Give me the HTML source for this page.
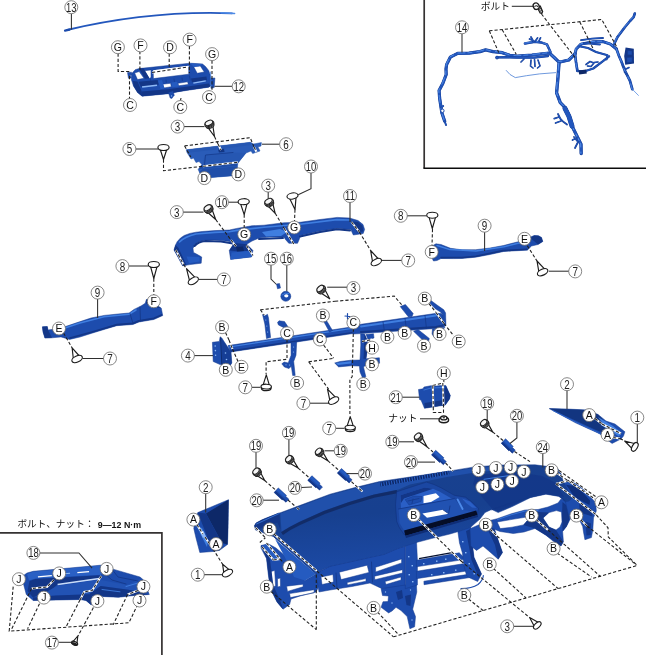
<!DOCTYPE html>
<html lang="ja"><head><meta charset="utf-8"><title>インストルメントパネル</title>
<style>
html,body{margin:0;padding:0;background:#fff}
body{width:646px;height:655px;overflow:hidden;font-family:"Liberation Sans","Noto Sans CJK JP",sans-serif}
svg{display:block;will-change:transform}
.b{fill:#1d4cad;stroke:#153a8e;stroke-width:.5;stroke-linejoin:round}
.d{fill:#133687;stroke:none}
.dd{fill:#0d2868;stroke:none}
.m{fill:#255bc0;stroke:none}
.h{fill:#3f7ee0;stroke:none}
.hh{fill:#8db8f5;stroke:none}
.w{fill:#fff;stroke:none}
.p6 .b{fill:#2a5cb8;stroke:#2050a8}.p6 .m{fill:#2657b2}.p6 .d{fill:#1f4ea8}.p6 .dd{fill:#123684}
.bl{fill:none;stroke:#1d4cad;stroke-linecap:round;stroke-linejoin:round}
.dl{fill:none;stroke:#133687;stroke-linecap:round;stroke-linejoin:round}
.hl{fill:none;stroke:#3f7ee0;stroke-linecap:round;stroke-linejoin:round}
.ld{fill:none;stroke:#2e2e2e;stroke-width:1.05}
.da{fill:none;stroke:#202020;stroke-width:1.08;stroke-dasharray:3.2 2}
.wh{fill:none;stroke:#fff;stroke-width:2}
.lc{fill:#fff;stroke:#6a6a6a;stroke-width:.8}
.ln{font-size:12.3px;text-anchor:middle;fill:#222;font-family:"Liberation Sans","Noto Sans CJK JP",sans-serif}
.ll{font-size:10.5px;text-anchor:middle;fill:#111;font-family:"Liberation Sans","Noto Sans CJK JP",sans-serif}
.jp{font-size:10.5px;fill:#111;font-family:"Liberation Sans","Noto Sans CJK JP",sans-serif}
.tq{font-size:9.9px;font-weight:bold;fill:#111;font-family:"Liberation Sans","Noto Sans CJK JP",sans-serif}
.ck{fill:#fff;stroke:#1c1c1c;stroke-width:1.15;stroke-linejoin:round}
.sk{fill:#ececec;stroke:#222;stroke-width:1}
.sk2{fill:#f6f6f6;stroke:#222;stroke-width:1.1}
.fr{fill:none;stroke:#353232;stroke-width:1.7}
</style></head><body>
<svg width="646" height="655" viewBox="0 0 646 655">
<rect width="646" height="655" fill="#fff"/>
<path class="bl" style="stroke-width:1.8;stroke:#2357bd" d="M67 30 Q149.5 10.3 232 13.3"/>
<path class="hl" style="stroke-width:1.5;stroke:#4d8ae6" d="M221 12.8 L234.6 13.5"/>
<path class="bl" style="stroke-width:2.2" d="M65 30.6 L69.5 29.6"/>
<path class="ld" d="M71.4 13.0 L71.4 29.5"/>
<circle class="lc" cx="71.3" cy="7.2" r="6.5"/>
<text class="ln" transform="translate(71.3 11.6) scale(.77 1)">13</text>
<path class="b" fill-rule="evenodd" d="M131.3 74.0 L135.2 69.7 L139.0 68.6 L190.1 63.2 L202.5 64.0 L205.5 66.5 L208.7 70.5 L210.2 75.0 L211.0 79.8 L210.5 86.0 L208.7 87.2 L186.0 90.5 L174.0 92.4 L168.4 93.7 L142.1 96.2 L137.5 92.4 L133.5 86.0 L131.5 80.0Z M134.6 73.0 L139.2 71.5 L144.0 78.3 L137.5 79.6Z M144.5 70.7 L151.0 69.9 L151.0 77.6 L149.2 78.6Z M153.2 70.2 L188.6 65.8 L188.8 74.2 L153.4 78.6Z M193.6 66.6 L200.3 65.9 L204.3 72.0 L197.2 73.3Z M162.6 84.2 L170.6 83.3 L171.3 86.7 L164.0 88.0Z M178.0 83.3 L187.6 81.8 L188.3 84.4 L178.6 85.8Z"/>
<path class="w" d="M153.2 70.2 L188.6 65.8 L188.6 67.0 L153.2 71.4Z" />
<path class="d" d="M133.0 81.0 L137.5 81.5 L141.5 91.0 L142.1 96.2 L137.5 92.4 L133.5 86.0Z" />
<path class="d" d="M141.5 91.5 L168.0 89.3 L186.0 86.8 L208.7 83.6 L210.5 86.0 L208.7 87.2 L186.0 90.5 L168.4 93.7 L142.1 96.2Z" />
<path class="d" d="M138.5 81.8 L157.6 80.0 L158.8 84.5 L141.0 87.3Z" />
<path class="hh" d="M141.8 86.3 L156.8 84.6 L157.2 86.0 L142.3 87.8Z" />
<path class="d" d="M191.0 78.4 L206.4 76.5 L207.0 80.0 L192.0 82.3Z" />
<path class="hh" d="M193.2 82.4 L205.6 80.3 L205.9 81.5 L193.5 83.7Z" />
<path class="d" d="M139.0 68.6 L143.5 68.2 L149.5 78.2 L145.0 78.8Z" />
<path class="m" d="M190.1 63.2 L202.5 64.0 L199.4 66.3 L194.0 66.9Z" />
<path class="m" d="M158.0 80.5 L162.0 80.0 L164.5 88.5 L160.5 89.2Z" />
<path class="m" d="M171.5 82.5 L177.0 81.8 L178.8 86.5 L172.2 87.3Z" />
<path class="dl" style="stroke-width:.6" d="M150.5 79.5 L151 83 M166 80 L166.3 82.5 M174 79 L174.4 81.5 M182 78 L182.4 80.5 M189.5 76 L190.3 80"/>
<path class="b" d="M168.4 92.4 L173.1 90.8 L174.2 95.2 L171.8 98.5 L170.2 98.0 L169.2 95.0Z" />
<circle class="hh" cx="171.6" cy="96" r=".7"/>
<path class="b" d="M127.5 72.6 L131.5 72.2 L131.6 74.5 L130.2 75.0 L131.3 78.0 L128.5 78.3Z" />
<path class="b" d="M211.0 78.2 L214.9 78.0 L214.2 87.5 L211.0 88.3Z" />
<path class="hl" style="stroke-width:.8" d="M210.6 72 L211.2 88"/>
<path class="da" d="M118.1 53.5 L118.1 71.5 L130.0 71.5"/>
<path class="da" d="M139.9 51.0 L139.9 70.0"/>
<path class="da" d="M189.4 46.0 L189.4 73.0"/>
<path class="wh" d="M152.0 72.5 L188.0 67.0"/>
<path class="da" d="M152.0 72.5 L188.0 67.0"/>
<path class="da" d="M169.2 53.5 L169.2 69.0"/>
<path class="da" d="M212.0 60.5 L212.0 90.5"/>
<path class="da" d="M129.5 76.0 L129.5 99.0"/>
<path class="da" d="M181.0 98.0 L180.5 100.5"/>
<path class="ld" d="M214.5 86.3 L232.2 86.3"/>
<circle class="lc" cx="117.9" cy="47.2" r="6.5"/>
<text class="ll" x="117.9" y="51.0">G</text>
<circle class="lc" cx="140.5" cy="45.4" r="6.5"/>
<text class="ll" x="140.5" y="49.2">F</text>
<circle class="lc" cx="170.0" cy="47.3" r="6.5"/>
<text class="ll" x="170.0" y="51.1">D</text>
<circle class="lc" cx="189.6" cy="39.6" r="6.5"/>
<text class="ll" x="189.6" y="43.4">F</text>
<circle class="lc" cx="212.1" cy="54.1" r="6.5"/>
<text class="ll" x="212.1" y="57.9">G</text>
<circle class="lc" cx="130.0" cy="105.0" r="6.5"/>
<text class="ll" x="130.0" y="108.8">C</text>
<circle class="lc" cx="180.3" cy="107.0" r="6.5"/>
<text class="ll" x="180.3" y="110.8">C</text>
<circle class="lc" cx="209.0" cy="97.1" r="6.5"/>
<text class="ll" x="209.0" y="100.9">C</text>
<circle class="lc" cx="238.7" cy="86.3" r="6.5"/>
<text class="ln" transform="translate(238.7 90.7) scale(.77 1)">12</text>
<g class="p6">
<path class="b" d="M186.2 149.8 L250.5 142.3 L253.5 144.0 L261.4 142.6 L261.0 146.0 L258.0 147.0 L260.0 151.0 L252.7 153.5 L251.0 151.0 L246.0 153.0 L237.8 163.2 L236.8 175.4 L202.0 178.3 L198.2 169.4 L201.9 164.5 L199.0 161.5 L196.0 162.5 L193.5 158.0 L191.0 159.0 L187.0 152.5Z" />
<path class="m" d="M186.2 149.8 L250.5 142.3 L251.0 145.0 L222.0 149.0 L190.0 152.5Z" />
<path class="d" d="M198.2 169.4 L201.9 164.5 L237.8 163.2 L236.8 166.0 L203.0 168.5Z" />
<path class="m" d="M202.0 166.5 L205.0 155.0 L233.0 152.5 L246.0 153.0 L237.8 163.2Z" />
<path class="dl" style="stroke-width:.7" d="M204.5 165 L205.5 155 L233 152.5"/>
<path class="d" d="M202.5 169.0 L236.8 166.5 L236.8 175.4 L202.0 178.3 L199.5 172.0Z" />
<path class="dd" d="M218.0 149.5 L224.0 148.8 L224.5 152.0 L219.0 152.5Z" />
</g>
<path class="da" d="M184.6 145.9 L250.2 137.7 L254.0 147.0"/>
<path class="da" d="M184.6 145.9 L190.8 157.1"/>
<path class="da" d="M214.5 136.5 L218.0 144.0"/>
<path class="wh" d="M218.0 144.0 L221.0 150.0"/>
<path class="da" d="M218.0 144.0 L221.0 150.0"/>
<path class="da" d="M163.5 159.5 L163.5 170.7 L203.0 166.3"/>
<path class="wh" d="M203.0 166.3 L237.8 162.3"/>
<path class="da" d="M203.0 166.3 L237.8 162.3"/>
<path class="wh" d="M254.0 147.0 L256.5 152.0"/>
<path class="da" d="M254.0 147.0 L256.5 152.0"/>
<path class="ld" d="M184.0 126.6 L204.5 126.6"/>
<path class="ck" d="M207.1 126.3 L214.5 136.5 L212.6 124.1Z"/>
<ellipse class="sk" cx="210.1" cy="125.7" rx="4.0" ry="2.4" transform="rotate(-22.3 210.1 125.7)"/>
<ellipse class="sk" cx="209.7" cy="124.7" rx="4.4" ry="2.4" transform="rotate(-22.3 209.7 124.7)"/>
<ellipse class="sk" cx="209.3" cy="123.8" rx="4.7" ry="2.4" transform="rotate(-22.3 209.3 123.8)"/>
<ellipse class="sk2" cx="208.9" cy="122.9" rx="4.0" ry="2.4" transform="rotate(-22.3 208.9 122.9)"/>
<path class="ld" d="M135.5 149.0 L158.5 149.0"/>
<path class="ck" d="M160.0 148.7 L163.5 159.5 L167.0 148.7Z"/>
<ellipse class="ck" cx="163.5" cy="147.5" rx="5.6" ry="3.0" transform="rotate(0.0 163.5 147.5)"/>
<path class="ld" d="M262.0 144.2 L280.0 144.2"/>
<circle class="lc" cx="177.6" cy="126.6" r="6.5"/>
<text class="ln" transform="translate(177.6 131.0) scale(.8 1)">3</text>
<circle class="lc" cx="129.4" cy="149.0" r="6.5"/>
<text class="ln" transform="translate(129.4 153.4) scale(.8 1)">5</text>
<circle class="lc" cx="286.1" cy="144.2" r="6.5"/>
<text class="ln" transform="translate(286.1 148.6) scale(.8 1)">6</text>
<circle class="lc" cx="204.4" cy="178.1" r="6.5"/>
<text class="ll" x="204.4" y="181.9">D</text>
<circle class="lc" cx="238.3" cy="174.4" r="6.5"/>
<text class="ll" x="238.3" y="178.2">D</text>
<path class="b" d="M174.0 250.0 L175.5 245.0 L177.3 241.5 L180.5 238.0 L184.2 235.5 L189.8 233.4 L196.0 232.2 L202.2 231.5 L215.0 230.6 L229.4 230.0 L236.8 228.4 L251.7 225.8 L264.0 225.2 L283.8 222.8 L300.0 222.3 L320.0 219.5 L337.2 217.4 L349.5 218.0 L358.0 220.5 L363.0 224.5 L364.6 229.4 L363.2 233.5 L353.3 235.0 L350.8 229.6 L337.2 228.4 L320.0 231.0 L300.5 235.6 L299.0 240.0 L297.5 243.3 L288.8 243.3 L285.5 239.5 L283.8 236.9 L270.0 237.0 L259.0 238.1 L252.0 241.0 L246.7 244.3 L252.9 250.5 L251.6 256.9 L230.6 259.4 L229.3 250.5 L234.3 243.0 L228.0 241.2 L221.0 240.6 L214.5 239.9 L205.0 240.2 L198.4 242.0 L194.5 245.0 L193.0 248.5 L193.5 252.4 L197.9 254.8 L201.7 257.0 L201.2 263.2 L190.0 264.6 L182.6 265.8 L178.5 258.0Z" />
<path class="hl" style="stroke-width:1.6" d="M179.5 242 Q185 236.5 196 234 L215 232.4 L229 231.8 L237 230.4 L264 227.2 L300 224.3 L337 219.6 L349 220"/>
<path class="dl" style="stroke-width:2" d="M194.5 246 Q198 241.8 205.5 241 L221 241.6 L233 243.5 M259 239 L283 238 M300 236.5 L320 232 L337 229.3 L350 230.5"/>
<path class="d" d="M174.0 250.0 L175.5 245.0 L178.5 248.0 L186.5 265.2 L182.6 265.8 L178.5 258.0Z" />
<path class="d" d="M229.3 250.5 L234.3 243.0 L246.7 244.3 L252.9 250.5 L240.0 251.5Z" />
<path class="m" d="M231.5 252.5 L251.0 250.8 L251.6 256.9 L230.6 259.4Z" />
<path class="dd" d="M236.0 247.0 L243.0 246.5 L244.0 251.0 L237.0 251.5Z" />
<path class="h" d="M262.0 232.0 L280.0 229.0 L287.0 232.0 L281.0 236.0 L266.0 236.5Z" />
<path class="d" d="M352.0 221.5 L358.0 222.0 L362.5 226.0 L363.2 231.5 L357.0 232.5 L354.5 227.0Z" />
<path class="m" d="M186.5 256.5 L199.5 257.0 L199.8 261.5 L189.0 263.2Z" />
<path class="da" d="M215.7 219.5 L231.0 240.0"/>
<path class="wh" d="M231.0 240.0 L236.0 246.3"/>
<path class="da" d="M231.0 240.0 L236.0 246.3"/>
<path class="wh" d="M246.5 245.5 L253.0 255.5"/>
<path class="da" d="M246.5 245.5 L253.0 255.5"/>
<path class="da" d="M244.2 214.6 L244.2 228.0"/>
<path class="da" d="M275.2 213.3 L284.0 228.0"/>
<path class="wh" d="M284.0 228.0 L294.0 244.5"/>
<path class="da" d="M284.0 228.0 L294.0 244.5"/>
<path class="da" d="M295.0 209.6 L294.5 221.0"/>
<path class="wh" d="M175.8 250.0 L183.5 264.5"/>
<path class="da" d="M175.8 250.0 L183.5 264.5"/>
<path class="da" d="M183.5 264.5 L186.5 268.6"/>
<path class="wh" d="M351.5 222.0 L359.4 232.0"/>
<path class="da" d="M351.5 222.0 L359.4 232.0"/>
<path class="da" d="M359.4 232.0 L370.6 250.5"/>
<path class="ld" d="M183.0 212.1 L203.5 212.1"/>
<path class="ck" d="M206.7 211.5 L215.7 219.5 L211.6 208.2Z"/>
<ellipse class="sk" cx="209.4" cy="210.3" rx="4.0" ry="2.4" transform="rotate(-34.2 209.4 210.3)"/>
<ellipse class="sk" cx="208.9" cy="209.4" rx="4.4" ry="2.4" transform="rotate(-34.2 208.9 209.4)"/>
<ellipse class="sk" cx="208.3" cy="208.6" rx="4.7" ry="2.4" transform="rotate(-34.2 208.3 208.6)"/>
<ellipse class="sk2" cx="207.7" cy="207.8" rx="4.0" ry="2.4" transform="rotate(-34.2 207.7 207.8)"/>
<path class="ld" d="M228.0 202.2 L238.5 202.2"/>
<path class="ck" d="M240.3 203.0 L244.2 214.6 L247.2 202.8Z"/>
<ellipse class="ck" cx="243.7" cy="201.7" rx="5.6" ry="3.0" transform="rotate(-2.2 243.7 201.7)"/>
<path class="ld" d="M268.2 191.5 L268.2 198.5"/>
<path class="ck" d="M267.1 205.0 L275.2 213.3 L272.4 202.0Z"/>
<ellipse class="sk" cx="270.0" cy="203.9" rx="4.0" ry="2.4" transform="rotate(-29.2 270.0 203.9)"/>
<ellipse class="sk" cx="269.5" cy="203.1" rx="4.4" ry="2.4" transform="rotate(-29.2 269.5 203.1)"/>
<ellipse class="sk" cx="269.0" cy="202.2" rx="4.7" ry="2.4" transform="rotate(-29.2 269.0 202.2)"/>
<ellipse class="sk2" cx="268.5" cy="201.3" rx="4.0" ry="2.4" transform="rotate(-29.2 268.5 201.3)"/>
<path class="ck" d="M289.3 197.8 L295.0 209.6 L296.1 196.6Z"/>
<ellipse class="ck" cx="292.5" cy="196.0" rx="5.6" ry="3.0" transform="rotate(-10.4 292.5 196.0)"/>
<path class="ld" d="M298.2 194.8 L311.0 188.6 L311.0 172.5"/>
<path class="ld" d="M350.0 202.0 L350.0 222.0"/>
<path class="ck" d="M195.7 278.1 L186.5 268.6 L189.7 281.4Z"/>
<ellipse class="ck" cx="193.3" cy="280.8" rx="5.6" ry="3.0" transform="rotate(-209.1 193.3 280.8)"/>
<path class="ld" d="M198.6 279.4 L218.0 279.4"/>
<path class="ck" d="M378.9 259.5 L370.6 250.5 L372.7 262.6Z"/>
<ellipse class="ck" cx="376.3" cy="262.1" rx="5.6" ry="3.0" transform="rotate(-206.2 376.3 262.1)"/>
<path class="ld" d="M381.7 260.4 L402.0 260.4"/>
<circle class="lc" cx="176.8" cy="212.1" r="6.5"/>
<text class="ln" transform="translate(176.8 216.5) scale(.8 1)">3</text>
<circle class="lc" cx="221.9" cy="202.2" r="6.5"/>
<text class="ln" transform="translate(221.9 206.6) scale(.77 1)">10</text>
<circle class="lc" cx="268.2" cy="185.6" r="6.5"/>
<text class="ln" transform="translate(268.2 190.0) scale(.8 1)">3</text>
<circle class="lc" cx="311.0" cy="166.5" r="6.5"/>
<text class="ln" transform="translate(311.0 170.9) scale(.77 1)">10</text>
<circle class="lc" cx="350.0" cy="196.0" r="6.5"/>
<text class="ln" transform="translate(350.0 200.4) scale(.77 1)">11</text>
<circle class="lc" cx="244.2" cy="234.4" r="6.5"/>
<text class="ll" x="244.2" y="238.2">G</text>
<circle class="lc" cx="294.2" cy="227.5" r="6.5"/>
<text class="ll" x="294.2" y="231.3">G</text>
<circle class="lc" cx="223.9" cy="279.4" r="6.5"/>
<text class="ln" transform="translate(223.9 283.8) scale(.8 1)">7</text>
<circle class="lc" cx="408.2" cy="260.4" r="6.5"/>
<text class="ln" transform="translate(408.2 264.8) scale(.8 1)">7</text>
<path class="ld" d="M271.0 264.5 L271.0 279.0 L276.5 284.5"/>
<path class="ld" d="M286.8 264.5 L286.8 291.5"/>
<path class="b" d="M276.5 284.0 L279.5 283.5 L280.5 288.0 L277.5 288.8Z" />
<circle class="b" cx="285.8" cy="296.3" r="5"/><ellipse class="w" cx="286.3" cy="295.8" rx="2.1" ry="1.6"/>
<path class="hl" style="stroke-width:1" d="M282 295 Q285 292 289 293.5"/>
<circle class="lc" cx="271.0" cy="258.7" r="6.5"/>
<text class="ln" transform="translate(271.0 263.1) scale(.77 1)">15</text>
<circle class="lc" cx="286.8" cy="258.7" r="6.5"/>
<text class="ln" transform="translate(286.8 263.1) scale(.77 1)">16</text>
<path class="b" d="M432.0 246.0 L436.0 243.8 L441.0 244.5 L450.6 248.3 L462.0 249.8 L475.7 249.7 L490.0 248.0 L503.6 245.5 L520.3 241.2 L528.0 238.0 L534.2 235.6 L538.5 235.8 L541.5 237.4 L542.8 241.5 L538.0 244.5 L531.5 246.0 L527.3 250.2 L515.0 250.8 L503.6 251.5 L490.0 254.5 L475.7 257.2 L462.0 258.5 L453.4 258.6 L441.0 258.5 L437.0 260.5 L433.5 261.0 L431.0 256.0 L430.5 250.0Z" />
<path class="hl" style="stroke-width:1.5" d="M437 245.5 L450 249.6 L476 251 L504 246.8 L521 242.5 L533 237.5"/>
<path class="dl" style="stroke-width:1.6" d="M441 257.6 L462 257.5 L476 256.2 L503 250.6 L527 249.3"/>
<path class="d" d="M530.0 238.0 L534.2 235.6 L538.5 235.8 L541.5 237.4 L542.8 241.5 L538.0 244.5 L534.0 241.0Z" />
<path class="da" d="M432.5 229.0 L432.0 246.0"/>
<path class="da" d="M527.3 245.7 L537.0 261.0"/>
<path class="ld" d="M407.0 215.8 L426.5 215.8"/>
<path class="ck" d="M428.8 216.4 L432.3 228.5 L435.8 216.4Z"/>
<ellipse class="ck" cx="432.3" cy="215.2" rx="5.6" ry="3.0" transform="rotate(0.0 432.3 215.2)"/>
<path class="ld" d="M484.6 231.8 L484.6 251.0"/>
<path class="ck" d="M545.2 269.6 L537.0 261.0 L539.0 272.7Z"/>
<ellipse class="ck" cx="542.6" cy="272.2" rx="5.6" ry="3.0" transform="rotate(-206.6 542.6 272.2)"/>
<path class="ld" d="M548.7 271.2 L569.0 271.2"/>
<circle class="lc" cx="400.8" cy="215.8" r="6.5"/>
<text class="ln" transform="translate(400.8 220.2) scale(.8 1)">8</text>
<circle class="lc" cx="431.7" cy="251.9" r="6.5"/>
<text class="ll" x="431.7" y="255.7">F</text>
<circle class="lc" cx="484.6" cy="225.7" r="6.5"/>
<text class="ln" transform="translate(484.6 230.1) scale(.8 1)">9</text>
<circle class="lc" cx="524.5" cy="238.8" r="6.5"/>
<text class="ll" x="524.5" y="242.6">E</text>
<circle class="lc" cx="575.2" cy="271.4" r="6.5"/>
<text class="ln" transform="translate(575.2 275.8) scale(.8 1)">7</text>
<path class="b" d="M42.4 326.8 L47.3 326.5 L48.0 330.0 L55.0 329.0 L64.7 326.8 L79.5 321.8 L91.0 318.0 L104.3 315.4 L118.0 314.0 L129.1 313.0 L134.0 309.4 L141.0 306.0 L145.2 303.3 L146.4 299.5 L152.0 299.0 L157.5 305.7 L161.3 308.2 L162.7 315.6 L153.8 319.5 L139.0 322.0 L132.8 324.5 L116.7 325.7 L104.0 329.5 L91.9 333.2 L80.0 337.0 L69.6 339.4 L61.0 336.9 L52.0 337.8 L44.9 338.1 L43.0 332.0Z" />
<path class="hl" style="stroke-width:1.5" d="M65 328 L80 323 L104 316.8 L129 314.3 L136 310"/>
<path class="dl" style="stroke-width:1.8" d="M70 338 L92 332 L117 324.6 L133 323.4 L139 320.8 L154 318.3 L161.5 315"/>
<path class="dl" style="stroke-width:.8" d="M130 313.5 L133 323.5 M140 307 L140.5 321"/>
<path class="d" d="M42.4 326.8 L47.3 326.5 L48.0 330.0 L52.0 337.8 L44.9 338.1 L43.0 332.0Z" />
<path class="d" d="M146.0 303.5 L153.0 307.0 L161.3 308.2 L157.5 305.7 L152.0 299.0 L146.4 299.5Z" />
<path class="da" d="M153.8 278.5 L153.8 296.0"/>
<path class="da" d="M63.5 333.0 L72.1 347.8"/>
<path class="ld" d="M128.5 266.0 L148.5 266.0"/>
<path class="ck" d="M150.3 265.7 L153.8 278.5 L157.3 265.7Z"/>
<ellipse class="ck" cx="153.8" cy="264.5" rx="5.6" ry="3.0" transform="rotate(0.0 153.8 264.5)"/>
<path class="ld" d="M97.6 298.5 L97.6 318.0"/>
<path class="ck" d="M79.8 356.5 L72.1 347.8 L73.4 359.3Z"/>
<ellipse class="ck" cx="77.1" cy="359.0" rx="5.6" ry="3.0" transform="rotate(-204.1 77.1 359.0)"/>
<path class="ld" d="M82.5 358.5 L104.0 358.5"/>
<circle class="lc" cx="122.4" cy="266.1" r="6.5"/>
<text class="ln" transform="translate(122.4 270.5) scale(.8 1)">8</text>
<circle class="lc" cx="153.8" cy="301.3" r="6.5"/>
<text class="ll" x="153.8" y="305.1">F</text>
<circle class="lc" cx="97.6" cy="292.6" r="6.5"/>
<text class="ln" transform="translate(97.6 297.0) scale(.8 1)">9</text>
<circle class="lc" cx="59.0" cy="328.5" r="6.5"/>
<text class="ll" x="59.0" y="332.3">E</text>
<circle class="lc" cx="110.0" cy="358.5" r="6.5"/>
<text class="ln" transform="translate(110.0 362.9) scale(.8 1)">7</text>
<path class="b" d="M228.0 345.6 L352.5 326.8 L353.0 333.5 L230.5 352.0Z" />
<path class="hl" style="stroke-width:1.2" d="M229 347 L352 328.3"/>
<path class="dl" style="stroke-width:1.3" d="M231 351 L352 332.7"/>
<path class="b" d="M353.0 326.5 L360.9 324.3 L436.4 313.3 L441.0 313.6 L444.0 316.0 L445.3 321.0 L445.1 326.0 L441.0 327.8 L436.4 328.5 L360.9 333.6 L353.0 334.0Z" />
<path class="hl" style="stroke-width:1.8" d="M361 326.5 L436 315.5"/>
<path class="dl" style="stroke-width:2.2" d="M361 332 L436 327 L443 325.5"/>
<path class="dl" style="stroke-width:.7" d="M383 322 L384.5 331.5 M405 318.5 L406.5 330 M425 315.5 L426.5 328.5"/>
<path class="b" d="M212.4 342.3 L219.3 341.4 L220.1 336.8 L221.8 338.0 L226.0 344.5 L231.0 352.2 L231.8 363.0 L230.2 365.4 L220.1 364.6 L213.2 361.5Z" />
<path class="d" d="M221.2 338.5 L226.0 344.5 L231.0 352.2 L231.8 363.0 L230.2 365.4 L222.2 364.8Z" style="opacity:.6"/>
<path class="dl" style="stroke-width:.9;stroke:#0d2868" d="M220.6 338 L221.8 364.5"/>
<circle class="hh" cx="215.2" cy="346.0" r=".8"/>
<circle class="hh" cx="215.4" cy="350.6" r=".8"/>
<circle class="hh" cx="215.6" cy="355.2" r=".8"/>
<circle class="hh" cx="225.5" cy="353.0" r=".8"/>
<circle class="hh" cx="226.5" cy="359.5" r=".8"/>
<path class="b" d="M262.5 314.5 L264.5 316.0 L267.5 314.3 L268.5 318.0 L270.6 337.5 L266.5 338.5 L264.8 324.0Z" />
<circle class="hh" cx="265.8" cy="320.0" r=".6"/>
<circle class="hh" cx="266.8" cy="326.0" r=".6"/>
<circle class="hh" cx="267.6" cy="332.0" r=".6"/>
<path class="b" d="M277.5 322.5 L279.0 320.8 L284.5 321.5 L287.5 326.0 L290.0 333.0 L286.5 335.0 L283.5 327.5 L278.5 325.0Z" />
<path class="b" d="M291.0 342.5 L296.7 341.8 L296.0 355.2 L293.7 361.4 L295.2 375.4 L292.7 375.6 L291.3 366.3 L289.0 368.6 L284.4 367.0 L281.8 363.8 L284.2 362.0 L288.2 363.0 L291.1 355.2Z" />
<circle class="hh" cx="293.6" cy="347.0" r=".6"/>
<circle class="hh" cx="293.5" cy="352.0" r=".6"/>
<circle class="hh" cx="286.0" cy="364.8" r=".6"/>
<circle class="hh" cx="289.6" cy="365.0" r=".6"/>
<path class="b" d="M323.5 321.0 L326.5 320.5 L332.5 330.5 L329.5 332.0Z" />
<path class="bl" style="stroke-width:1.2" d="M345 316 L350 316.5 M347.5 313.5 L347.5 319"/>
<path class="b" d="M400.2 306.6 L405.4 304.5 L413.2 313.5 L412.0 316.5 L408.5 317.0Z" />
<path class="b" d="M429.3 302.6 L431.3 300.8 L437.0 305.0 L443.8 309.8 L445.6 313.0 L445.9 325.5 L443.2 326.5 L442.8 315.0 L440.5 312.0 L435.0 308.5Z" />
<path class="b" d="M413.5 331.2 L418.0 329.5 L425.0 335.0 L429.3 338.5 L428.0 343.4 L421.0 338.5Z" />
<path class="b" d="M432.5 329.0 L445.0 327.2 L440.0 333.0 L434.5 337.5 L432.0 334.0Z" />
<path class="b" d="M360.6 333.8 L364.5 334.0 L367.4 340.7 L367.0 352.0 L366.0 358.8 L379.4 357.8 L379.6 363.2 L366.5 364.5 L363.5 367.0 L365.8 376.6 L363.3 379.4 L360.0 372.0 L359.4 366.0 L351.0 365.8 L338.6 366.9 L334.7 363.0 L340.0 361.5 L351.0 360.2 L360.0 360.0 L360.8 345.0Z" />
<path class="d" d="M364.5 334.0 L367.4 340.7 L367.0 352.0 L366.0 358.8 L363.5 358.8 L364.2 345.0Z" />
<path class="h" d="M336.0 363.0 L351.0 361.2 L351.0 363.5 L338.0 365.0Z" />
<path class="b" d="M366.0 334.5 L373.5 333.8 L374.0 338.0 L368.0 339.5Z" />
<path class="da" d="M335.0 301.3 L394.3 296.1 L401.7 304.8"/>
<path class="da" d="M260.4 309.8 L335.0 301.3"/>
<path class="da" d="M260.4 309.8 L264.2 315.0"/>
<path class="da" d="M225.5 332.5 L229.0 340.0"/>
<path class="wh" d="M229.0 340.0 L232.5 349.0"/>
<path class="da" d="M229.0 340.0 L232.5 349.0"/>
<path class="da" d="M232.5 349.0 L238.2 361.8"/>
<path class="da" d="M287.0 339.3 L287.0 359.3 L266.1 361.8 L266.1 374.2"/>
<path class="da" d="M323.6 345.0 L333.5 358.1"/>
<path class="da" d="M308.7 361.8 L333.5 358.4"/>
<path class="da" d="M308.7 361.8 L328.6 389.1"/>
<path class="da" d="M353.4 328.5 L352.2 376.6 L349.9 379.5 L349.9 416.0"/>
<path class="da" d="M429.0 303.6 L436.0 312.5"/>
<path class="wh" d="M436.0 312.5 L444.0 323.5"/>
<path class="da" d="M436.0 312.5 L444.0 323.5"/>
<path class="da" d="M444.0 323.5 L453.7 335.8"/>
<path class="wh" d="M362.0 341.5 L372.0 339.5"/>
<path class="da" d="M362.0 341.5 L372.0 339.5"/>
<path class="ld" d="M194.0 355.6 L213.0 355.6"/>
<ellipse class="ck" style="stroke-width:1.3" cx="266.2" cy="388.3" rx="4.8" ry="2.4" transform="rotate(-179.5 266.2 388.3)"/>
<path class="ck" d="M269.4 385.4 L266.3 374.8 L263.0 385.4Z"/>
<ellipse class="ck" cx="266.2" cy="386.6" rx="5.2" ry="2.4" transform="rotate(-179.5 266.2 386.6)"/>
<path class="ld" d="M251.8 387.3 L260.6 387.3"/>
<path class="ck" d="M336.1 397.9 L327.5 389.1 L330.0 401.2Z"/>
<ellipse class="ck" cx="333.6" cy="400.6" rx="5.6" ry="3.0" transform="rotate(-207.9 333.6 400.6)"/>
<path class="ld" d="M309.8 403.2 L329.5 403.2"/>
<ellipse class="ck" style="stroke-width:1.3" cx="350.2" cy="429.3" rx="4.8" ry="2.4" transform="rotate(-180.0 350.2 429.3)"/>
<path class="ck" d="M353.4 426.4 L350.2 416.6 L347.0 426.4Z"/>
<ellipse class="ck" cx="350.2" cy="427.6" rx="5.2" ry="2.4" transform="rotate(-180.0 350.2 427.6)"/>
<path class="ld" d="M335.6 428.3 L344.6 428.3"/>
<path class="ck" d="M319.8 292.3 L329.7 298.8 L324.2 288.3Z"/>
<ellipse class="sk" cx="322.3" cy="290.7" rx="4.0" ry="2.4" transform="rotate(-42.2 322.3 290.7)"/>
<ellipse class="sk" cx="321.7" cy="289.9" rx="4.4" ry="2.4" transform="rotate(-42.2 321.7 289.9)"/>
<ellipse class="sk" cx="321.0" cy="289.2" rx="4.7" ry="2.4" transform="rotate(-42.2 321.0 289.2)"/>
<ellipse class="sk2" cx="320.3" cy="288.5" rx="4.0" ry="2.4" transform="rotate(-42.2 320.3 288.5)"/>
<path class="ld" d="M327.2 287.2 L347.0 287.2"/>
<circle class="lc" cx="353.4" cy="288.0" r="6.5"/>
<text class="ln" transform="translate(353.4 292.4) scale(.8 1)">3</text>
<circle class="lc" cx="187.9" cy="355.6" r="6.5"/>
<text class="ln" transform="translate(187.9 360.0) scale(.8 1)">4</text>
<circle class="lc" cx="222.1" cy="327.2" r="6.5"/>
<text class="ll" x="222.1" y="331.0">B</text>
<circle class="lc" cx="225.8" cy="369.8" r="6.5"/>
<text class="ll" x="225.8" y="373.6">B</text>
<circle class="lc" cx="241.4" cy="366.8" r="6.5"/>
<text class="ll" x="241.4" y="370.6">E</text>
<circle class="lc" cx="287.0" cy="333.3" r="6.5"/>
<text class="ll" x="287.0" y="337.1">C</text>
<circle class="lc" cx="297.1" cy="382.9" r="6.5"/>
<text class="ll" x="297.1" y="386.7">B</text>
<circle class="lc" cx="322.9" cy="315.5" r="6.5"/>
<text class="ll" x="322.9" y="319.3">B</text>
<circle class="lc" cx="319.9" cy="339.5" r="6.5"/>
<text class="ll" x="319.9" y="343.3">C</text>
<circle class="lc" cx="353.4" cy="322.6" r="6.5"/>
<text class="ll" x="353.4" y="326.4">C</text>
<circle class="lc" cx="424.8" cy="298.6" r="6.5"/>
<text class="ll" x="424.8" y="302.4">B</text>
<circle class="lc" cx="458.7" cy="341.5" r="6.5"/>
<text class="ll" x="458.7" y="345.3">E</text>
<circle class="lc" cx="387.4" cy="337.0" r="6.5"/>
<text class="ll" x="387.4" y="340.8">B</text>
<circle class="lc" cx="404.7" cy="332.8" r="6.5"/>
<text class="ll" x="404.7" y="336.6">B</text>
<circle class="lc" cx="424.0" cy="345.7" r="6.5"/>
<text class="ll" x="424.0" y="349.5">B</text>
<circle class="lc" cx="439.6" cy="334.0" r="6.5"/>
<text class="ll" x="439.6" y="337.8">B</text>
<circle class="lc" cx="372.0" cy="347.7" r="6.5"/>
<text class="ll" x="372.0" y="351.5">H</text>
<circle class="lc" cx="372.0" cy="364.3" r="6.5"/>
<text class="ll" x="372.0" y="368.1">B</text>
<circle class="lc" cx="363.3" cy="384.1" r="6.5"/>
<text class="ll" x="363.3" y="387.9">B</text>
<circle class="lc" cx="245.3" cy="387.3" r="6.5"/>
<text class="ln" transform="translate(245.3 391.7) scale(.8 1)">7</text>
<circle class="lc" cx="303.4" cy="403.2" r="6.5"/>
<text class="ln" transform="translate(303.4 407.6) scale(.8 1)">7</text>
<circle class="lc" cx="329.2" cy="428.3" r="6.5"/>
<text class="ln" transform="translate(329.2 432.7) scale(.8 1)">7</text>
<path class="b" d="M418.5 389.5 L423.0 388.8 L424.0 387.0 L430.5 385.8 L445.8 385.6 L450.3 395.5 L449.5 399.0 L445.3 405.0 L424.5 408.3 L421.0 400.0 L419.5 399.5Z" />
<path class="d" d="M445.8 385.6 L450.3 395.5 L449.5 399.0 L445.3 405.0 L443.0 396.0Z" />
<path class="d" d="M424.5 403.0 L444.0 400.0 L445.3 405.0 L424.5 408.3Z" />
<path class="hl" style="stroke-width:.8" d="M424 390 L431 388 L444 387.5"/>
<path class="da" d="M443.8 379.0 L443.8 383.0"/>
<path class="wh" d="M432.8 385.5 L442.8 383.0 L443.5 405.0"/>
<path class="da" d="M432.8 385.5 L442.8 383.0 L443.5 405.0"/>
<path class="wh" d="M432.8 385.5 L433.3 407.0"/>
<path class="da" d="M432.8 385.5 L433.3 407.0"/>
<path class="da" d="M433.3 407.0 L433.3 412.5 L443.5 412.5 L443.5 405.0"/>
<path class="ld" d="M402.0 397.2 L419.5 397.2"/>
<circle class="lc" cx="395.8" cy="397.2" r="6.5"/>
<text class="ln" transform="translate(395.8 401.6) scale(.77 1)">21</text>
<circle class="lc" cx="443.8" cy="373.3" r="6.5"/>
<text class="ll" x="443.8" y="377.1">H</text>
<text class="jp" style="font-size:9.7px" x="388.3" y="422.4">ナット</text>
<path class="ld" d="M420.0 418.8 L439.0 418.8"/>
<ellipse class="ck" style="stroke-width:1.4" cx="443.8" cy="420" rx="4.8" ry="2.7"/><ellipse class="ck" style="stroke-width:1.3" cx="443.8" cy="417.9" rx="3.2" ry="1.9"/><ellipse cx="443.8" cy="417.7" rx="1.4" ry=".8" style="fill:#333"/>
<path class="b" d="M278.3 487.9 L286.5 495.4 L285.7 496.3 L288.9 499.2 L286.0 502.3 L282.8 499.4 L282.3 500.0 L274.1 492.5Z" />
<path class="m" d="M278.2 488.4 L286.0 495.5 L284.4 497.3 L276.6 490.2Z" />
<path class="d" d="M275.6 491.1 L286.6 501.2 L285.8 502.1 L282.8 499.4 L282.3 500.0 L274.3 492.6Z" />
<path class="b" d="M311.9 475.7 L320.1 483.2 L319.3 484.1 L322.5 487.0 L319.6 490.1 L316.4 487.2 L315.9 487.8 L307.7 480.3Z" />
<path class="m" d="M311.8 476.2 L319.6 483.3 L318.0 485.1 L310.2 478.0Z" />
<path class="d" d="M309.2 478.9 L320.2 489.0 L319.4 489.9 L316.4 487.2 L315.9 487.8 L307.9 480.4Z" />
<path class="b" d="M341.5 468.5 L349.7 476.0 L348.9 476.9 L352.1 479.8 L349.2 482.9 L346.0 480.0 L345.5 480.6 L337.3 473.1Z" />
<path class="m" d="M341.4 469.0 L349.2 476.1 L347.6 477.9 L339.8 470.8Z" />
<path class="d" d="M338.8 471.7 L349.8 481.8 L349.0 482.7 L346.0 480.0 L345.5 480.6 L337.5 473.2Z" />
<path class="b" d="M435.7 450.3 L443.9 457.8 L443.1 458.7 L446.3 461.6 L443.4 464.7 L440.2 461.8 L439.7 462.4 L431.5 454.9Z" />
<path class="m" d="M435.6 450.8 L443.4 457.9 L441.8 459.7 L434.0 452.6Z" />
<path class="d" d="M433.0 453.5 L444.0 463.6 L443.2 464.5 L440.2 461.8 L439.7 462.4 L431.7 455.0Z" />
<path class="b" d="M505.6 438.8 L513.2 446.4 L512.3 447.3 L515.3 450.3 L512.4 453.2 L509.4 450.3 L508.8 450.8 L501.2 443.2Z" />
<path class="m" d="M505.5 439.3 L512.7 446.5 L511.0 448.2 L503.8 441.0Z" />
<path class="d" d="M502.8 441.9 L513.0 452.2 L512.1 453.0 L509.4 450.3 L508.8 450.8 L501.3 443.3Z" />
<path class="da" d="M264.7 480.5 L275.0 489.5"/>
<path class="da" d="M288.0 500.0 L296.9 507.7"/>
<path class="da" d="M298.1 468.1 L309.0 477.5"/>
<path class="da" d="M327.8 460.7 L338.5 470.0"/>
<path class="da" d="M427.0 446.8 L433.0 452.0"/>
<path class="da" d="M445.5 463.0 L449.0 466.5"/>
<path class="da" d="M492.6 431.9 L503.0 440.5"/>
<path class="da" d="M514.5 451.5 L530.0 461.6"/>
<path class="ck" d="M255.7 474.8 L264.7 480.5 L259.7 471.0Z"/>
<ellipse class="sk" cx="258.1" cy="473.3" rx="3.7" ry="2.4" transform="rotate(-42.6 258.1 473.3)"/>
<ellipse class="sk" cx="257.4" cy="472.5" rx="4.0" ry="2.4" transform="rotate(-42.6 257.4 472.5)"/>
<ellipse class="sk" cx="256.7" cy="471.8" rx="4.3" ry="2.4" transform="rotate(-42.6 256.7 471.8)"/>
<ellipse class="sk2" cx="256.0" cy="471.1" rx="3.7" ry="2.4" transform="rotate(-42.6 256.0 471.1)"/>
<path class="ld" d="M256.0 451.8 L256.0 468.0"/>
<path class="ck" d="M288.5 462.4 L298.1 468.1 L292.4 458.5Z"/>
<ellipse class="sk" cx="290.8" cy="460.8" rx="3.7" ry="2.4" transform="rotate(-45.0 290.8 460.8)"/>
<ellipse class="sk" cx="290.1" cy="460.1" rx="4.0" ry="2.4" transform="rotate(-45.0 290.1 460.1)"/>
<ellipse class="sk" cx="289.4" cy="459.4" rx="4.3" ry="2.4" transform="rotate(-45.0 289.4 459.4)"/>
<ellipse class="sk2" cx="288.7" cy="458.7" rx="3.7" ry="2.4" transform="rotate(-45.0 288.7 458.7)"/>
<path class="ld" d="M288.9 439.0 L288.9 456.0"/>
<path class="ck" d="M318.3 455.0 L327.8 460.7 L322.2 451.1Z"/>
<ellipse class="sk" cx="320.6" cy="453.4" rx="3.7" ry="2.4" transform="rotate(-44.7 320.6 453.4)"/>
<ellipse class="sk" cx="319.9" cy="452.7" rx="4.0" ry="2.4" transform="rotate(-44.7 319.9 452.7)"/>
<ellipse class="sk" cx="319.2" cy="452.0" rx="4.3" ry="2.4" transform="rotate(-44.7 319.2 452.0)"/>
<ellipse class="sk2" cx="318.5" cy="451.3" rx="3.7" ry="2.4" transform="rotate(-44.7 318.5 451.3)"/>
<path class="ld" d="M324.5 450.8 L334.5 450.8"/>
<path class="ck" d="M417.2 439.8 L427.0 446.8 L421.4 436.2Z"/>
<ellipse class="sk" cx="419.6" cy="438.4" rx="3.7" ry="2.4" transform="rotate(-41.3 419.6 438.4)"/>
<ellipse class="sk" cx="419.0" cy="437.7" rx="4.0" ry="2.4" transform="rotate(-41.3 419.0 437.7)"/>
<ellipse class="sk" cx="418.3" cy="436.9" rx="4.3" ry="2.4" transform="rotate(-41.3 418.3 436.9)"/>
<ellipse class="sk2" cx="417.6" cy="436.1" rx="3.7" ry="2.4" transform="rotate(-41.3 417.6 436.1)"/>
<path class="ld" d="M398.8 441.8 L414.0 441.8"/>
<path class="ck" d="M483.4 426.3 L492.6 431.9 L487.4 422.5Z"/>
<ellipse class="sk" cx="485.8" cy="424.7" rx="3.7" ry="2.4" transform="rotate(-43.6 485.8 424.7)"/>
<ellipse class="sk" cx="485.1" cy="424.0" rx="4.0" ry="2.4" transform="rotate(-43.6 485.1 424.0)"/>
<ellipse class="sk" cx="484.4" cy="423.3" rx="4.3" ry="2.4" transform="rotate(-43.6 484.4 423.3)"/>
<ellipse class="sk2" cx="483.7" cy="422.6" rx="3.7" ry="2.4" transform="rotate(-43.6 483.7 422.6)"/>
<path class="ld" d="M487.2 409.5 L487.2 420.0"/>
<path class="ld" d="M263.0 500.2 L279.0 500.2"/>
<path class="ld" d="M301.0 487.6 L312.0 487.0"/>
<path class="ld" d="M346.5 473.6 L359.0 473.6"/>
<path class="ld" d="M417.0 462.1 L435.0 462.1"/>
<path class="ld" d="M516.9 422.0 L516.9 438.0 L510.0 443.5"/>
<circle class="lc" cx="256.0" cy="445.8" r="6.5"/>
<text class="ln" transform="translate(256.0 450.2) scale(.77 1)">19</text>
<circle class="lc" cx="288.9" cy="432.9" r="6.5"/>
<text class="ln" transform="translate(288.9 437.3) scale(.77 1)">19</text>
<circle class="lc" cx="340.7" cy="450.8" r="6.5"/>
<text class="ln" transform="translate(340.7 455.2) scale(.77 1)">19</text>
<circle class="lc" cx="392.3" cy="441.8" r="6.5"/>
<text class="ln" transform="translate(392.3 446.2) scale(.77 1)">19</text>
<circle class="lc" cx="487.2" cy="403.4" r="6.5"/>
<text class="ln" transform="translate(487.2 407.8) scale(.77 1)">19</text>
<circle class="lc" cx="256.7" cy="500.3" r="6.5"/>
<text class="ln" transform="translate(256.7 504.7) scale(.77 1)">20</text>
<circle class="lc" cx="294.9" cy="487.9" r="6.5"/>
<text class="ln" transform="translate(294.9 492.3) scale(.77 1)">20</text>
<circle class="lc" cx="365.0" cy="473.6" r="6.5"/>
<text class="ln" transform="translate(365.0 478.0) scale(.77 1)">20</text>
<circle class="lc" cx="410.9" cy="462.1" r="6.5"/>
<text class="ln" transform="translate(410.9 466.5) scale(.77 1)">20</text>
<circle class="lc" cx="516.9" cy="415.8" r="6.5"/>
<text class="ln" transform="translate(516.9 420.2) scale(.77 1)">20</text>
<path class="b" d="M197.8 512.6 L228.5 499.7 L228.0 530.0 L227.5 544.4 L219.6 550.3 L213.0 551.5 L199.8 552.5 L196.0 538.0 L193.8 528.5 L195.0 518.0Z" />
<path class="dd" d="M206.0 513.6 L228.5 499.7 L228.0 530.0 L227.5 544.4 L222.0 543.0Z" />
<path class="d" d="M197.8 512.6 L206.0 513.6 L222.0 543.0 L219.6 550.3 L213.0 551.5Z" />
<path class="h" d="M196.5 526.0 L202.0 528.0 L208.0 541.0 L207.0 547.0Z" />
<path class="hh" d="M200.0 532.0 L203.5 531.0 L206.0 536.5 L203.0 538.0Z" />
<path class="wh" d="M196.8 524.5 L203.0 534.0"/>
<path class="da" d="M196.8 524.5 L203.0 534.0"/>
<path class="wh" d="M205.0 537.0 L213.0 549.0"/>
<path class="da" d="M205.0 537.0 L213.0 549.0"/>
<path class="da" d="M213.0 549.0 L222.6 564.2"/>
<path class="ld" d="M205.7 493.0 L205.7 512.6"/>
<path class="ck" d="M230.0 570.4 L222.6 564.2 L223.9 573.7Z"/>
<ellipse class="ck" cx="227.5" cy="573.1" rx="5.6" ry="3.0" transform="rotate(-208.8 227.5 573.1)"/>
<path class="ld" d="M204.0 574.7 L223.0 574.7"/>
<circle class="lc" cx="205.7" cy="487.2" r="6.5"/>
<text class="ln" transform="translate(205.7 491.6) scale(.8 1)">2</text>
<circle class="lc" cx="193.4" cy="519.6" r="6.5"/>
<text class="ll" x="193.4" y="523.4">A</text>
<circle class="lc" cx="216.0" cy="544.0" r="6.5"/>
<text class="ll" x="216.0" y="547.8">A</text>
<circle class="lc" cx="197.8" cy="574.7" r="6.5"/>
<text class="ln" transform="translate(197.8 579.1) scale(.8 1)">1</text>
<path class="b" d="M549.2 408.6 L567.0 409.0 L587.0 410.0 L598.0 414.5 L606.0 421.0 L615.0 424.0 L624.9 431.8 L623.5 436.0 L621.3 438.8 L612.1 443.4 L608.0 440.5 L600.7 434.2 L588.0 428.5 L575.5 422.8 L562.0 415.5Z" />
<path class="d" d="M549.2 408.6 L587.0 410.0 L598.0 414.5 L610.0 427.0 L604.0 433.0 L596.0 430.0 L576.0 420.8 L560.0 413.6Z" style="fill:#123580"/>
<path class="hl" style="stroke-width:1;stroke:#2d63c8" d="M553 410.6 L562 415 L576 422.3 L597 432 L608 439"/>
<path class="h" d="M598.0 417.0 L613.0 426.0 L621.0 432.5 L619.0 436.5 L606.0 428.0Z" />
<path class="hh" d="M602.0 422.5 L610.0 427.5 L609.0 430.0 L601.0 425.0Z" />
<path class="wh" d="M595.0 418.5 L602.0 424.0"/>
<path class="da" d="M595.0 418.5 L602.0 424.0"/>
<path class="wh" d="M602.0 424.0 L621.0 433.5"/>
<path class="da" d="M602.0 424.0 L621.0 433.5"/>
<path class="wh" d="M613.0 437.5 L620.0 438.5"/>
<path class="da" d="M613.0 437.5 L620.0 438.5"/>
<path class="da" d="M620.0 438.5 L624.7 441.0"/>
<path class="ld" d="M567.0 390.0 L567.0 409.0"/>
<path class="ck" d="M635.3 443.7 L624.7 441.0 L632.3 448.9Z"/>
<ellipse class="ck" cx="634.8" cy="446.9" rx="4.8" ry="2.6" transform="rotate(-239.7 634.8 446.9)"/>
<path class="ld" d="M637.3 423.5 L637.3 443.5"/>
<circle class="lc" cx="567.0" cy="384.2" r="6.5"/>
<text class="ln" transform="translate(567.0 388.6) scale(.8 1)">2</text>
<circle class="lc" cx="589.2" cy="415.1" r="6.5"/>
<text class="ll" x="589.2" y="418.9">A</text>
<circle class="lc" cx="607.6" cy="434.8" r="6.5"/>
<text class="ll" x="607.6" y="438.6">A</text>
<circle class="lc" cx="637.3" cy="417.6" r="6.5"/>
<text class="ln" transform="translate(637.3 422.0) scale(.8 1)">1</text>
<defs><linearGradient id="pg" x1="0" y1="0" x2=".22" y2="1"><stop offset="0" stop-color="#19418f"/><stop offset=".5" stop-color="#17408f"/><stop offset="1" stop-color="#1c4aa6"/></linearGradient><linearGradient id="pg2" x1="0" y1="0" x2="0" y2="1"><stop offset="0" stop-color="#2a5fc2"/><stop offset="1" stop-color="#163f98"/></linearGradient></defs>
<path class="b" fill-rule="evenodd" d="M261.0 545.5 L268.3 543.8 L276.0 548.0 L290.0 560.0 L305.0 580.6 L316.0 574.0 L319.0 586.0 L316.0 592.0 L300.0 596.0 L291.0 599.0 L289.6 604.6 L283.0 609.2 L277.0 602.0 L270.1 588.0 L268.0 572.0 L266.5 558.6 L261.0 548.0Z M271.0 571.4 L274.7 570.5 L275.6 586.0 L272.2 587.0Z M277.5 578.8 L280.3 578.0 L280.5 586.2 L277.7 587.0Z M286.6 586.2 L303.1 584.2 L303.1 586.8 L287.5 591.4Z M289.6 593.6 L314.1 589.7 L314.1 592.8 L290.3 597.6Z"/>
<path class="d" d="M261.0 545.5 L266.5 558.6 L270.1 588.0 L277.0 602.0 L283.0 609.2 L280.0 600.0 L273.5 586.0 L270.0 560.0 L265.0 547.0Z" />
<path class="m" d="M262.5 545.7 L268.3 543.8 L280.0 558.5 L274.5 560.0Z" />
<path class="b" fill-rule="evenodd" d="M316.0 573.0 L330.0 566.0 L350.0 561.5 L370.0 557.0 L384.0 554.0 L398.0 548.0 L405.3 546.0 L405.3 588.7 L382.0 588.7 L370.0 583.0 L352.0 586.5 L330.0 590.0 L319.0 592.0Z M321.0 577.0 L333.0 574.5 L333.5 582.0 L322.0 584.5Z M339.3 572.2 L367.2 565.2 L369.0 572.4 L341.1 579.6Z M375.6 567.3 L401.6 558.9 L401.6 562.9 L375.6 572.0Z M374.6 576.2 L402.5 569.7 L402.5 573.0 L374.8 579.7Z M347.0 582.6 L366.0 578.6 L366.0 581.2 L347.5 584.9Z M385.0 581.5 L401.0 577.0 L401.0 580.0 L386.0 584.5Z"/>
<path class="dl" style="stroke-width:.8" d="M336 573 L337 588 M371.5 562 L372.5 582"/>
<path class="b" d="M381.1 588.7 L405.3 585.0 L416.4 583.0 L416.8 592.0 L412.7 609.2 L415.5 616.6 L414.6 626.8 L409.9 628.7 L407.2 616.6 L401.0 610.5 L396.0 607.3 L392.0 611.0 L388.6 612.9 L381.1 607.3 L383.0 601.7 L388.0 601.5 L388.5 596.0 L382.5 595.5Z" />
<path class="d" d="M396.0 592.0 L402.0 590.0 L403.0 598.0 L398.0 600.0Z" />
<path class="d" d="M405.0 596.0 L411.0 594.5 L410.5 606.0 L406.5 605.0Z" />
<circle class="hh" cx="385.5" cy="592.0" r=".7"/>
<circle class="hh" cx="392.0" cy="603.0" r=".7"/>
<circle class="hh" cx="410.5" cy="590.0" r=".7"/>
<circle class="hh" cx="412.0" cy="620.0" r=".7"/>
<path class="b" d="M405.3 544.0 L416.4 539.0 L417.4 560.0 L417.4 585.0 L405.3 588.7Z" />
<path class="b" d="M416.4 560.3 L459.2 552.8 L463.5 557.0 L463.5 559.6 L416.4 566.8Z" />
<path style="fill:none;stroke:#071230;stroke-width:1.1" d="M419 558.6 L452 552.6"/>
<path class="b" d="M416.4 571.3 L462.9 563.8 L466.6 568.0 L466.6 571.0 L416.4 578.7Z" />
<path class="b" d="M423.9 581.2 L466.6 574.6 L470.0 577.5 L424.0 584.7Z" />
<path class="b" d="M457.5 529.0 L470.3 524.0 L472.5 545.0 L474.0 557.2 L481.5 573.9 L477.7 581.5 L470.0 578.0 L466.6 575.7 L464.0 566.0 L462.4 553.0 L459.5 543.0Z" />
<path class="d" d="M466.0 531.0 L470.3 529.0 L474.0 557.2 L481.5 573.9 L479.0 578.0 L471.5 560.0Z" />
<path class="bl" style="stroke-width:1.2" d="M461 588.7 Q472 588.5 478 584.5 Q483 580 483.3 575.7"/>
<rect class="hh" x="408.0" y="556.0" width="1.5" height="1.4"/>
<rect class="hh" x="411.5" y="565.0" width="1.5" height="1.4"/>
<rect class="hh" x="408.5" y="574.0" width="1.5" height="1.4"/>
<rect class="hh" x="412.0" y="581.0" width="1.5" height="1.4"/>
<rect class="hh" x="423.0" y="563.0" width="1.5" height="1.4"/>
<rect class="hh" x="436.0" y="560.5" width="1.5" height="1.4"/>
<rect class="hh" x="445.0" y="558.5" width="1.5" height="1.4"/>
<rect class="hh" x="431.0" y="574.0" width="1.5" height="1.4"/>
<rect class="hh" x="443.0" y="572.0" width="1.5" height="1.4"/>
<rect class="hh" x="455.0" y="569.5" width="1.5" height="1.4"/>
<rect class="hh" x="462.0" y="541.0" width="1.5" height="1.4"/>
<rect class="hh" x="465.0" y="552.0" width="1.5" height="1.4"/>
<rect class="hh" x="468.5" y="563.0" width="1.5" height="1.4"/>
<rect class="hh" x="473.5" y="573.0" width="1.5" height="1.4"/>
<path class="b" d="M470.0 528.7 L483.0 523.0 L493.8 527.0 L498.0 540.0 L502.5 552.5 L498.2 559.2 L490.0 552.0 L483.0 546.0 L476.5 550.4 L470.8 546.0Z" />
<path class="d" d="M483.0 523.0 L493.8 527.0 L502.5 552.5 L498.2 559.2 L495.0 545.0 L488.0 530.0Z" />
<path class="b" fill-rule="evenodd" d="M486.0 521.5 L497.2 518.7 L511.1 513.8 L525.0 510.0 L538.0 509.5 L548.0 507.0 L558.0 503.0 L561.0 499.0 L565.4 500.5 L569.0 506.7 L569.7 520.0 L566.5 526.5 L562.6 531.4 L563.4 541.7 L561.0 546.0 L553.0 541.0 L545.9 535.2 L535.0 528.5 L524.0 532.0 L513.3 533.5 L500.0 531.5 L493.8 529.0 L488.0 526.0Z M497.2 522.0 L511.0 519.6 L525.0 517.3 L530.0 517.6 L523.5 524.9 L512.0 527.2 L500.2 528.6Z M543.0 518.0 L549.0 512.6 L556.4 510.6 L561.5 512.0 L562.0 522.0 L560.0 527.0 L556.0 530.0 L549.0 527.0Z"/>
<path class="d" d="M530.0 517.6 L538.0 512.0 L549.0 512.6 L543.0 518.0 L549.0 527.0 L556.0 530.0 L563.4 541.7 L561.0 546.0 L545.9 535.2 L535.0 528.5 L523.5 524.9Z" />
<path class="hl" style="stroke-width:.8" d="M497.5 519.6 L511.1 514.8 L525 511 L538 510.5"/>
<path class="d" d="M562.5 502.0 L568.5 507.0 L569.2 520.0 L566.5 526.5 L562.6 531.4 L562.0 515.0Z" />
<path class="b" d="M561.0 483.2 L567.0 479.5 L578.4 484.3 L587.0 493.0 L595.7 502.7 L596.3 511.0 L593.5 517.8 L592.8 530.0 L591.4 537.6 L584.9 539.7 L583.5 532.0 L582.7 526.5 L578.4 517.8 L571.9 515.7 L569.7 520.0 L565.4 501.6Z" />
<path class="dd" d="M566.0 484.8 L577.5 486.5 L590.0 500.5 L589.5 505.0 L575.0 497.5Z" style="fill:#0e2f7c"/>
<path class="d" d="M579.0 503.0 L592.0 509.0 L592.5 516.5 L580.0 512.5Z" />
<path class="d" d="M585.5 521.5 L591.0 523.5 L590.5 535.0 L586.5 535.5Z" />
<path class="b" d="M254.4 525.8 L256.0 523.0 L262.0 519.8 L268.3 517.2 L279.7 513.0 L299.5 505.6 L330.0 494.2 L354.8 487.6 L379.5 481.5 L410.0 477.0 L447.0 471.4 L474.5 466.9 L500.0 465.0 L535.0 464.8 L556.7 467.6 L560.5 472.0 L563.2 481.0 L571.9 498.3 L569.0 501.0 L565.4 501.8 L558.9 496.4 L545.9 494.2 L530.7 497.5 L513.3 506.1 L498.2 512.6 L491.7 509.4 L485.0 512.5 L480.0 519.0 L470.3 527.6 L459.2 531.3 L450.0 534.0 L431.3 538.6 L416.4 542.5 L398.0 548.5 L384.0 554.5 L370.0 557.5 L350.0 562.0 L330.0 566.4 L323.0 569.5 L316.0 573.6 L273.8 536.8 L255.5 530.0Z" style="fill:url(#pg)"/>
<path class="d" d="M254.4 525.8 L256.0 523.0 L262.0 519.8 L279.3 512.5 L280.4 529.3 L277.5 522.5 L270.0 524.5 L260.0 528.5 L256.0 530.0Z" />
<path class="hl" style="stroke-width:.8" d="M256.5 524 L279 513.6"/>
<path class="m" d="M280.3 513.6 L299.5 506.4 L330.0 495.0 L354.8 488.4 L379.5 482.3 L410.0 477.9 L447.0 472.3 L474.5 468.0 L500.0 466.2 L500.0 470.0 L475.0 472.5 L447.0 477.0 L410.0 484.5 L398.6 489.5 L373.8 494.5 L349.0 502.0 L324.3 510.7 L299.5 521.8 L281.5 531.5Z" style="fill:#2050ab"/>
<path style="fill:none;stroke:#122a64;stroke-width:3.2;opacity:.9" d="M282 533.6 Q289 528.5 299.5 523.6 L324.3 512.5 L349 503.8 L373.8 496.3 L397 491.6"/>
<path class="m" d="M275.0 539.0 L316.0 574.0 L305.0 580.6 L294.0 577.0 L284.8 557.0Z" />
<path class="dl" style="stroke-width:.9" d="M273.8 536.8 L316 573.6"/>
<path class="dd" d="M380.0 482.6 L448.7 470.8 L449.5 474.3 L380.5 486.4Z" />
<path style="fill:none;stroke:#2a62c9;stroke-width:4;stroke-dasharray:1 1.6" d="M381 484.6 L449 472.6"/>
<path class="b" d="M396.7 491.8 L426.4 482.1 L434.0 484.5 L441.3 487.9 L454.3 495.3 L465.5 497.2 L472.0 502.0 L478.5 508.3 L477.5 513.0 L476.6 514.5 L440.0 524.5 L404.1 534.6 L399.0 527.0 L396.7 521.3 L395.5 505.0Z" style="fill:#1b47a2;stroke:#102f78"/>
<path class="m" d="M400.4 495.3 L424.6 487.5 L433.0 488.8 L439.4 491.6 L452.4 499.0 L444.0 500.8 L420.0 504.5 L401.0 509.0Z" style="fill:#2a5fc6"/>
<path class="d" d="M400.4 495.3 L424.6 487.5 L433.0 488.8 L425.0 491.5 L404.0 498.5 L401.0 503.0Z" />
<path class="w" d="M423.5 496.0 L435.9 493.2 L439.6 497.1 L431.0 502.0 L423.5 503.3Z" />
<path class="b" d="M405.0 499.5 L414.0 496.0 L422.0 496.5 L421.0 501.5 L409.0 505.0Z" />
<path class="dl" style="stroke-width:.7" d="M408 501 L419 498.5 M412 503.5 L413 499"/>
<path class="m" d="M398.6 509.0 L444.0 500.5 L454.3 498.6 L461.7 508.3 L476.6 512.0 L404.1 530.6 L399.5 523.0Z" style="fill:#2152b2"/>
<path class="m" d="M454.3 496.5 L465.5 498.2 L477.5 509.5 L476.6 512.0 L463.5 510.0 L458.0 500.0Z" style="fill:#1d4aa8"/>
<path class="hl" style="stroke-width:1.8;stroke:#4c8aea" d="M457.6 499.5 L462.6 509"/>
<path class="w" d="M422.4 513.6 L443.0 509.8 L448.6 513.8 L427.0 517.8Z" />
<path class="dl" style="stroke-width:.8" d="M443 509.8 L448.6 513.8 L450 506"/>
<path class="m" d="M462.0 498.5 L470.0 501.5 L476.5 508.0 L472.0 507.5 L466.0 503.0Z" style="fill:#2a5fc6"/>
<path class="dl" style="stroke-width:.8" d="M398.6 509 L444 500.5 L454.3 498.6"/>
<path class="dd" d="M404.1 530.4 L476.2 510.4 L477.6 515.0 L405.4 535.8Z" style="fill:#050d26"/>
<path class="d" d="M405.4 535.8 L477.6 515.0 L478.0 517.0 L406.0 538.0Z" style="fill:#0f2d75"/>
<path class="d" d="M476.0 474.5 L520.0 472.5 L542.0 476.0 L556.0 483.0 L564.0 497.0 L558.9 495.2 L545.9 493.0 L530.7 496.3 L513.3 504.9 L498.2 511.4 L491.7 508.2 L482.0 497.0 L473.0 484.0Z" style="opacity:.75"/>
<path class="hl" style="stroke-width:1" d="M484 479.3 L513 475"/>
<path class="dl" style="stroke-width:.8" d="M491.7 509.8 Q520 499 546 493.6 L559 495.8 L565.4 501"/>
<path class="wh" d="M255.5 527.5 L265.4 537.8"/>
<path class="da" d="M255.5 527.5 L265.4 537.8"/>
<path class="da" d="M259.8 542.5 L265.4 537.8"/>
<path class="wh" d="M262.0 547.0 L273.5 560.0"/>
<path class="da" d="M262.0 547.0 L273.5 560.0"/>
<path class="wh" d="M266.5 543.0 L280.0 559.0"/>
<path class="da" d="M266.5 543.0 L280.0 559.0"/>
<path class="wh" d="M273.5 560.0 L280.0 559.0"/>
<path class="da" d="M273.5 560.0 L280.0 559.0"/>
<path class="da" d="M280.0 559.0 L284.0 563.0"/>
<path class="wh" d="M273.9 534.0 L316.8 571.0"/>
<path class="da" d="M273.9 534.0 L316.8 571.0"/>
<path class="da" d="M316.8 571.0 L393.5 636.8"/>
<path class="da" d="M316.3 574.5 L316.3 629.6"/>
<path class="da" d="M271.0 591.5 L316.3 629.6"/>
<path class="wh" d="M418.0 519.0 L461.0 561.0"/>
<path class="da" d="M418.0 519.0 L461.0 561.0"/>
<path class="da" d="M461.0 561.0 L529.6 617.6"/>
<path class="wh" d="M490.0 529.0 L497.0 536.0"/>
<path class="da" d="M490.0 529.0 L497.0 536.0"/>
<path class="da" d="M497.0 536.0 L558.0 588.5"/>
<path class="da" d="M493.5 568.5 L526.0 598.0"/>
<path class="da" d="M468.5 599.0 L483.0 610.5"/>
<path class="da" d="M377.5 612.0 L398.5 634.5"/>
<path class="wh" d="M536.0 519.5 L548.0 530.0"/>
<path class="da" d="M536.0 519.5 L548.0 530.0"/>
<path class="da" d="M548.0 530.0 L600.5 576.5"/>
<path class="wh" d="M581.0 520.0 L587.0 526.0"/>
<path class="da" d="M581.0 520.0 L587.0 526.0"/>
<path class="da" d="M587.0 526.0 L636.5 565.0"/>
<path class="da" d="M557.0 553.0 L591.5 577.0"/>
<path class="da" d="M393.5 636.8 L637.0 565.5"/>
<path class="wh" d="M556.0 472.5 L595.0 499.0"/>
<path class="da" d="M556.0 472.5 L595.0 499.0"/>
<path class="wh" d="M559.0 470.5 L597.0 497.5"/>
<path class="da" d="M559.0 470.5 L597.0 497.5"/>
<path class="wh" d="M556.0 483.8 L569.8 480.3 L573.5 483.2"/>
<path class="da" d="M556.0 483.8 L569.8 480.3 L573.5 483.2"/>
<path class="wh" d="M556.0 483.8 L596.3 514.9"/>
<path class="da" d="M556.0 483.8 L596.3 514.9"/>
<path class="da" d="M596.3 514.9 L608.0 527.8 L608.3 537.0 L637.0 565.3"/>
<path class="wh" d="M296.9 507.7 L299.0 509.5"/>
<path class="da" d="M296.9 507.7 L299.0 509.5"/>
<path class="wh" d="M351.4 481.7 L362.5 491.6"/>
<path class="da" d="M351.4 481.7 L362.5 491.6"/>
<path class="wh" d="M449.0 466.5 L453.0 471.0"/>
<path class="da" d="M449.0 466.5 L453.0 471.0"/>
<path class="ld" d="M542.8 453.0 L542.8 467.5"/>
<path class="ld" d="M513.5 626.3 L533.5 626.3"/>
<path class="ck" d="M538.5 622.5 L529.6 617.6 L534.4 626.5Z"/>
<ellipse class="ck" cx="537.3" cy="625.4" rx="4.6" ry="2.5" transform="rotate(-224.6 537.3 625.4)"/>
<circle class="lc" cx="269.7" cy="529.3" r="6.5"/>
<text class="ll" x="269.7" y="533.1">B</text>
<circle class="lc" cx="289.4" cy="566.9" r="6.5"/>
<text class="ll" x="289.4" y="570.7">A</text>
<circle class="lc" cx="266.8" cy="586.7" r="6.5"/>
<text class="ll" x="266.8" y="590.5">B</text>
<circle class="lc" cx="373.6" cy="607.9" r="6.5"/>
<text class="ll" x="373.6" y="611.7">B</text>
<circle class="lc" cx="413.7" cy="515.1" r="6.5"/>
<text class="ll" x="413.7" y="518.9">B</text>
<circle class="lc" cx="485.8" cy="524.7" r="6.5"/>
<text class="ll" x="485.8" y="528.5">B</text>
<circle class="lc" cx="531.8" cy="515.6" r="6.5"/>
<text class="ll" x="531.8" y="519.4">B</text>
<circle class="lc" cx="489.7" cy="564.3" r="6.5"/>
<text class="ll" x="489.7" y="568.1">B</text>
<circle class="lc" cx="464.3" cy="595.0" r="6.5"/>
<text class="ll" x="464.3" y="598.8">B</text>
<circle class="lc" cx="551.6" cy="470.3" r="6.5"/>
<text class="ll" x="551.6" y="474.1">B</text>
<circle class="lc" cx="576.4" cy="515.6" r="6.5"/>
<text class="ll" x="576.4" y="519.4">B</text>
<circle class="lc" cx="553.6" cy="548.6" r="6.5"/>
<text class="ll" x="553.6" y="552.4">B</text>
<circle class="lc" cx="601.4" cy="502.3" r="6.5"/>
<text class="ll" x="601.4" y="506.1">A</text>
<circle class="lc" cx="478.6" cy="470.2" r="6.5"/>
<text class="ll" x="478.6" y="474.0">J</text>
<circle class="lc" cx="495.8" cy="468.0" r="6.5"/>
<text class="ll" x="495.8" y="471.8">J</text>
<circle class="lc" cx="510.6" cy="467.4" r="6.5"/>
<text class="ll" x="510.6" y="471.2">J</text>
<circle class="lc" cx="523.8" cy="471.7" r="6.5"/>
<text class="ll" x="523.8" y="475.5">J</text>
<circle class="lc" cx="482.3" cy="487.0" r="6.5"/>
<text class="ll" x="482.3" y="490.8">J</text>
<circle class="lc" cx="497.4" cy="484.5" r="6.5"/>
<text class="ll" x="497.4" y="488.3">J</text>
<circle class="lc" cx="512.0" cy="481.2" r="6.5"/>
<text class="ll" x="512.0" y="485.0">J</text>
<circle class="lc" cx="542.8" cy="447.1" r="6.5"/>
<text class="ln" transform="translate(542.8 451.5) scale(.77 1)">24</text>
<circle class="lc" cx="507.2" cy="626.3" r="6.5"/>
<text class="ln" transform="translate(507.2 630.7) scale(.8 1)">3</text>
<path class="fr" d="M424.2 0 L424.2 168.2"/><path class="fr" style="stroke:#0c0c0c;stroke-width:1.5" d="M423.4 168.2 L646 168.2"/>
<text class="jp" style="font-size:9.7px" x="480.8" y="10">ボルト</text>
<path class="ld" d="M511.8 6.3 L533.0 6.3"/>
<path class="ck" style="stroke-width:1.3" d="M537.3 7.2 L540.2 6 L542.6 11.6 L541.8 13.4 L540 12.8Z"/><ellipse class="ck" style="stroke-width:1.4" cx="536.2" cy="6.2" rx="2.9" ry="3.3" transform="rotate(-25 536.2 6.2)"/><path class="ld" style="stroke-width:1.1" d="M534.4 6.6 Q536.5 4.8 538 6.8 M538.6 9.6 L541 8.6 M539.4 11.4 L541.8 10.4"/>
<path style="fill:none;stroke:#163d93;stroke-width:3.2;stroke-linecap:round;stroke-linejoin:round" d="M444.7 121.2 L441.9 112.9 L441 107.3 L439.6 98 L439.1 90.6 L442.9 83.2 L446.2 74.5 L446 69 L446.6 64.6 L450.3 57.2 L457.7 53.4 L468.9 53.2 L480 51.6 L485.6 49.9 L493 51.6 L502.3 52.7 L509.7 55.3 L517.2 56.2 L532 55 L549.3 53 L554.2 57.5 L559 62.2 L568.8 60 L575 53.8"/>
<path style="fill:none;stroke:#2256bc;stroke-width:2.5;stroke-linecap:round;stroke-linejoin:round" d="M444.7 121.2 L441.9 112.9 L441 107.3 L439.6 98 L439.1 90.6 L442.9 83.2 L446.2 74.5 L446 69 L446.6 64.6 L450.3 57.2 L457.7 53.4 L468.9 53.2 L480 51.6 L485.6 49.9 L493 51.6 L502.3 52.7 L509.7 55.3 L517.2 56.2 L532 55 L549.3 53 L554.2 57.5 L559 62.2 L568.8 60 L575 53.8"/>
<path style="fill:none;stroke:#5b95ee;stroke-width:0.8;stroke-linecap:round;stroke-dasharray:7 3 4 5" transform="translate(-.3 -.4)" d="M444.7 121.2 L441.9 112.9 L441 107.3 L439.6 98 L439.1 90.6 L442.9 83.2 L446.2 74.5 L446 69 L446.6 64.6 L450.3 57.2 L457.7 53.4 L468.9 53.2 L480 51.6 L485.6 49.9 L493 51.6 L502.3 52.7 L509.7 55.3 L517.2 56.2 L532 55 L549.3 53 L554.2 57.5 L559 62.2 L568.8 60 L575 53.8"/>
<path style="fill:none;stroke:#163d93;stroke-width:2.3;stroke-linecap:round;stroke-linejoin:round" d="M496.7 57.4 L506 57.2 L517 57.6 L534 57.6 L548 56"/>
<path style="fill:none;stroke:#2256bc;stroke-width:1.6;stroke-linecap:round;stroke-linejoin:round" d="M496.7 57.4 L506 57.2 L517 57.6 L534 57.6 L548 56"/>
<circle cx="497" cy="57.6" r="1.5" style="fill:#2256bc;stroke:#163d93;stroke-width:.6"/>
<path style="fill:none;stroke:#163d93;stroke-width:1.9;stroke-linecap:round;stroke-linejoin:round" d="M441 107.5 L443.2 106 M444.7 121.2 L446 125"/>
<path style="fill:none;stroke:#2256bc;stroke-width:1.2;stroke-linecap:round;stroke-linejoin:round" d="M441 107.5 L443.2 106 M444.7 121.2 L446 125"/>
<circle cx="442.4" cy="110.8" r="1.7" style="fill:#fff;stroke:#1d4cad;stroke-width:1"/>
<path style="fill:none;stroke:#163d93;stroke-width:2.5;stroke-linecap:round;stroke-linejoin:round" d="M524.9 43.5 L534.7 41.8 L541 42.4 L546.9 44.4 L550.5 52"/>
<path style="fill:none;stroke:#2256bc;stroke-width:1.8;stroke-linecap:round;stroke-linejoin:round" d="M524.9 43.5 L534.7 41.8 L541 42.4 L546.9 44.4 L550.5 52"/>
<path style="fill:none;stroke:#5b95ee;stroke-width:0.6;stroke-linecap:round;stroke-dasharray:7 3 4 5" transform="translate(-.3 -.4)" d="M524.9 43.5 L534.7 41.8 L541 42.4 L546.9 44.4 L550.5 52"/>
<path style="fill:none;stroke:#163d93;stroke-width:1.7;stroke-linecap:round;stroke-linejoin:round" d="M531 37 L533.5 41.5 M537.5 38 L535 41.5 M529.5 39 L533 40.5 M540.5 37.8 L539 40.8"/>
<path style="fill:none;stroke:#2256bc;stroke-width:1.0;stroke-linecap:round;stroke-linejoin:round" d="M531 37 L533.5 41.5 M537.5 38 L535 41.5 M529.5 39 L533 40.5 M540.5 37.8 L539 40.8"/>
<path style="fill:none;stroke:#163d93;stroke-width:1.6;stroke-linecap:round;stroke-linejoin:round" d="M531 60 L530.5 66 L533 68 M534.5 59.5 L535 66.5 M538 60 L540 66 L537.5 68 M524 59 L521 62"/>
<path style="fill:none;stroke:#2256bc;stroke-width:0.9;stroke-linecap:round;stroke-linejoin:round" d="M531 60 L530.5 66 L533 68 M534.5 59.5 L535 66.5 M538 60 L540 66 L537.5 68 M524 59 L521 62"/>
<path style="fill:none;stroke:#163d93;stroke-width:3.3;stroke-linecap:round;stroke-linejoin:round" d="M559 63.6 L557.9 78.3 L556.6 92.9 L560.3 102.7 L565.2 107.6 L568.8 114.9 L572.5 127.1 L577.4 136.9 L581 144.2 L581.2 153.5"/>
<path style="fill:none;stroke:#2256bc;stroke-width:2.6;stroke-linecap:round;stroke-linejoin:round" d="M559 63.6 L557.9 78.3 L556.6 92.9 L560.3 102.7 L565.2 107.6 L568.8 114.9 L572.5 127.1 L577.4 136.9 L581 144.2 L581.2 153.5"/>
<path style="fill:none;stroke:#5b95ee;stroke-width:0.9;stroke-linecap:round;stroke-dasharray:7 3 4 5" transform="translate(-.3 -.4)" d="M559 63.6 L557.9 78.3 L556.6 92.9 L560.3 102.7 L565.2 107.6 L568.8 114.9 L572.5 127.1 L577.4 136.9 L581 144.2 L581.2 153.5"/>
<path style="fill:none;stroke:#163d93;stroke-width:4.9;stroke-linecap:round;stroke-linejoin:round" d="M565 108.5 L569 116.5 L572 126"/>
<path style="fill:none;stroke:#2256bc;stroke-width:4.2;stroke-linecap:round;stroke-linejoin:round" d="M565 108.5 L569 116.5 L572 126"/>
<path style="fill:none;stroke:#163d93;stroke-width:1.7;stroke-linecap:round;stroke-linejoin:round" d="M554.2 118.6 L559 117 L563 121.5 L567 124.5 M555.5 123 L561 121 M558 114 L560.5 119 M574 137 L578 142 L575 148 M572.5 140 L577.5 137.5"/>
<path style="fill:none;stroke:#2256bc;stroke-width:1.0;stroke-linecap:round;stroke-linejoin:round" d="M554.2 118.6 L559 117 L563 121.5 L567 124.5 M555.5 123 L561 121 M558 114 L560.5 119 M574 137 L578 142 L575 148 M572.5 140 L577.5 137.5"/>
<path style="fill:none;stroke:#163d93;stroke-width:3.0;stroke-linecap:round;stroke-linejoin:round" d="M575 53.8 L576.2 49 L581 44.1 L593.3 41.8 L603 41.6 L610.4 44.1 L616.5 49"/>
<path style="fill:none;stroke:#2256bc;stroke-width:2.3;stroke-linecap:round;stroke-linejoin:round" d="M575 53.8 L576.2 49 L581 44.1 L593.3 41.8 L603 41.6 L610.4 44.1 L616.5 49"/>
<path style="fill:none;stroke:#5b95ee;stroke-width:0.8;stroke-linecap:round;stroke-dasharray:7 3 4 5" transform="translate(-.3 -.4)" d="M575 53.8 L576.2 49 L581 44.1 L593.3 41.8 L603 41.6 L610.4 44.1 L616.5 49"/>
<path style="fill:none;stroke:#163d93;stroke-width:1.8;stroke-linecap:round;stroke-linejoin:round" d="M581 40.2 L592 38.6 L603 38 M584 43 L600 44.5"/>
<path style="fill:none;stroke:#2256bc;stroke-width:1.1;stroke-linecap:round;stroke-linejoin:round" d="M581 40.2 L592 38.6 L603 38 M584 43 L600 44.5"/>
<path style="fill:none;stroke:#163d93;stroke-width:2.7;stroke-linecap:round;stroke-linejoin:round" d="M575 53.8 L576 62 L577.4 70.9"/>
<path style="fill:none;stroke:#2256bc;stroke-width:2.0;stroke-linecap:round;stroke-linejoin:round" d="M575 53.8 L576 62 L577.4 70.9"/>
<path style="fill:none;stroke:#5b95ee;stroke-width:0.7;stroke-linecap:round;stroke-dasharray:7 3 4 5" transform="translate(-.3 -.4)" d="M575 53.8 L576 62 L577.4 70.9"/>
<path style="fill:none;stroke:#163d93;stroke-width:2.2;stroke-linecap:round;stroke-linejoin:round" d="M577.4 70.9 L584 71.5 L593.3 68.5 L603 61.2 L609.1 56.3"/>
<path style="fill:none;stroke:#2256bc;stroke-width:1.5;stroke-linecap:round;stroke-linejoin:round" d="M577.4 70.9 L584 71.5 L593.3 68.5 L603 61.2 L609.1 56.3"/>
<path class="dd" d="M578.4 70.6 L586.2 69.6 L586.8 73.4 L579.2 74.6Z" />
<path style="fill:none;stroke:#163d93;stroke-width:2.0;stroke-linecap:round;stroke-linejoin:round" d="M580.5 46.5 L588 48 L596 52 L607.5 55.2 L606.5 59.4"/>
<path style="fill:none;stroke:#2256bc;stroke-width:1.3;stroke-linecap:round;stroke-linejoin:round" d="M580.5 46.5 L588 48 L596 52 L607.5 55.2 L606.5 59.4"/>
<path style="fill:none;stroke:#163d93;stroke-width:1.6;stroke-linecap:round;stroke-linejoin:round" d="M586 64.5 L590 61.5 L594 63 L591 66.5 L587.5 66 M594 62.5 L598 62"/>
<path style="fill:none;stroke:#2256bc;stroke-width:0.9;stroke-linecap:round;stroke-linejoin:round" d="M586 64.5 L590 61.5 L594 63 L591 66.5 L587.5 66 M594 62.5 L598 62"/>
<path style="fill:none;stroke:#163d93;stroke-width:2.6;stroke-linecap:round;stroke-linejoin:round" d="M614 44.1 L617.7 36.7 L625 27 L630 21 L633.6 17.2 L634.8 13.5"/>
<path style="fill:none;stroke:#2256bc;stroke-width:1.9;stroke-linecap:round;stroke-linejoin:round" d="M614 44.1 L617.7 36.7 L625 27 L630 21 L633.6 17.2 L634.8 13.5"/>
<path style="fill:none;stroke:#5b95ee;stroke-width:0.6;stroke-linecap:round;stroke-dasharray:7 3 4 5" transform="translate(-.3 -.4)" d="M614 44.1 L617.7 36.7 L625 27 L630 21 L633.6 17.2 L634.8 13.5"/>
<path style="fill:none;stroke:#163d93;stroke-width:2.7;stroke-linecap:round;stroke-linejoin:round" d="M616.5 49 L619 56 L621.3 61.2 L625 70.9 L629.9 80.7 L632.3 89.2"/>
<path style="fill:none;stroke:#2256bc;stroke-width:2.0;stroke-linecap:round;stroke-linejoin:round" d="M616.5 49 L619 56 L621.3 61.2 L625 70.9 L629.9 80.7 L632.3 89.2"/>
<path style="fill:none;stroke:#5b95ee;stroke-width:0.7;stroke-linecap:round;stroke-dasharray:7 3 4 5" transform="translate(-.3 -.4)" d="M616.5 49 L619 56 L621.3 61.2 L625 70.9 L629.9 80.7 L632.3 89.2"/>
<path class="hl" style="stroke-width:.7" d="M632.3 89.2 L638.4 95.4"/>
<path style="fill:none;stroke:#163d93;stroke-width:1.6;stroke-linecap:round;stroke-linejoin:round" d="M622.5 66 L626 69 L629 67.5 M624.5 72 L627.5 75.5"/>
<path style="fill:none;stroke:#2256bc;stroke-width:0.9;stroke-linecap:round;stroke-linejoin:round" d="M622.5 66 L626 69 L629 67.5 M624.5 72 L627.5 75.5"/>
<path class="d" d="M625.6 47.6 L633.8 48.8 L634.0 63.4 L625.2 64.8 L624.2 56.0Z" />
<path class="b" d="M627.6 50.5 L632.0 51.0 L632.0 55.0 L627.6 54.8Z" />
<path class="b" d="M626.8 57.5 L632.2 57.2 L632.2 62.0 L627.0 62.6Z" />
<path style="fill:none;stroke:#4a7fd4;stroke-width:.8" d="M506 70.2 L510 74.5 L515.3 77.6 L526.5 75.7 L539.5 73.9 L556 72.6"/>
<path class="da" d="M489.3 30.8 L601.8 19.5 L616.5 46.5"/>
<path class="da" d="M489.3 30.8 L498.7 52.5"/>
<path class="da" d="M502.2 29.7 L516.2 54.2"/>
<path class="da" d="M541.5 14.0 L575.0 57.5"/>
<path class="da" d="M579.8 21.9 L593.3 49.0"/>
<path class="ld" d="M462.0 33.2 L462.0 52.5"/>
<circle class="lc" cx="462.0" cy="27.3" r="6.5"/>
<text class="ln" transform="translate(462.0 31.7) scale(.77 1)">14</text>
<path class="fr" d="M0 532.9 L161.9 532.9 L161.9 655"/>
<text class="jp" style="font-size:9.6px" x="17.4" y="527.4" textLength="77" lengthAdjust="spacing">ボルト、ナット：</text><text class="tq" x="97.8" y="527.6" textLength="43.3" lengthAdjust="spacingAndGlyphs">9—12 N·m</text>
<path class="b" d="M22.8 576.0 L27.0 573.0 L33.2 571.3 L100.6 565.2 L106.0 566.0 L112.2 568.9 L140.0 577.0 L143.5 580.0 L149.3 594.5 L140.0 595.0 L131.0 595.8 L118.4 597.3 L92.5 596.0 L91.3 605.0 L86.0 600.5 L80.0 599.5 L33.2 600.5 L26.3 594.5 L23.5 584.0Z" />
<path class="m" d="M33.2 571.8 L100.6 565.6 L104.0 569.0 L101.0 574.7 L35.5 578.6 L29.0 580.5 L27.0 574.0Z" style="fill:#2a60c4"/>
<path class="w" d="M37.9 576.2 L51.8 575.0 L51.9 576.3 L38.0 577.5Z" />
<path class="w" d="M77.3 572.0 L89.0 571.0 L89.1 572.3 L77.4 573.3Z" />
<path class="hh" d="M58.0 573.8 L70.0 572.8 L70.1 573.8 L58.1 574.8Z" />
<path class="d" d="M35.5 579.0 L100.0 575.2 L99.0 578.0 L57.6 584.4 L52.0 589.0 L33.0 597.6 L27.5 591.0 L29.5 581.0Z" />
<path style="fill:none;stroke:#c9dcf8;stroke-width:1.3" d="M57.6 584.5 L99.4 578.5"/>
<path class="m" d="M57.0 586.0 L100.0 579.8 L127.0 585.0 L140.0 579.0 L146.0 591.5 L128.4 589.8 L100.6 586.0 L89.0 594.3 L56.0 595.5 L40.0 596.0Z" style="fill:#2253b4"/>
<path class="d" d="M33.0 597.6 L56.0 595.5 L89.0 594.3 L92.5 596.0 L91.3 605.0 L86.0 600.5 L80.0 599.5 L33.2 600.5Z" />
<path class="d" d="M100.6 586.0 L128.4 589.8 L149.3 594.5 L131.0 595.8 L118.4 597.3 L92.5 596.0 L89.0 594.3Z" />
<path class="dl" style="stroke-width:.8" d="M104 573 L112 580 L126 584 M112.2 569.5 L118 577 L138 581"/>
<path class="hl" style="stroke-width:.9" d="M102 589.5 L120 591.8 M126 586.5 L138 583"/>
<path class="da" d="M13.2 586.6 L9.2 631.2 L128.9 622.8 L136.8 606.3"/>
<path class="wh" d="M53.9 580.0 L47.0 587.0 L31.6 588.5"/>
<path class="da" d="M53.9 580.0 L47.0 587.0 L31.6 588.5"/>
<path class="da" d="M31.6 588.5 L11.8 628.7"/>
<path class="da" d="M39.5 603.7 L27.6 628.7"/>
<path class="wh" d="M101.3 576.0 L92.1 590.5 L84.2 591.8 L80.0 600.0"/>
<path class="da" d="M101.3 576.0 L92.1 590.5 L84.2 591.8 L80.0 600.0"/>
<path class="da" d="M80.0 600.0 L65.8 627.4"/>
<path class="da" d="M93.4 607.6 L78.0 636.0"/>
<path class="wh" d="M138.2 590.5 L127.6 594.5"/>
<path class="da" d="M138.2 590.5 L127.6 594.5"/>
<path class="da" d="M127.6 594.5 L113.2 624.7"/>
<path class="ld" d="M39.5 552.9 L78.9 552.9 L92.1 568.2"/>
<path class="ld" d="M58.4 642.3 L71.2 642.3"/>
<path class="ck" d="M77.0 643.0 L77.8 636.0 L73.2 641.4Z"/>
<ellipse class="ck" cx="74.6" cy="643.3" rx="3.3" ry="1.7" transform="rotate(-156.3 74.6 643.3)"/>
<ellipse cx="74.4" cy="643.9" rx="3.2" ry="1.5" transform="rotate(23 74.4 643.9)" style="fill:#222"/>
<circle class="lc" cx="33.4" cy="552.9" r="6.5"/>
<text class="ln" transform="translate(33.4 557.3) scale(.77 1)">18</text>
<circle class="lc" cx="51.9" cy="642.6" r="6.5"/>
<text class="ln" transform="translate(51.9 647.0) scale(.77 1)">17</text>
<circle class="lc" cx="18.9" cy="579.2" r="6.5"/>
<text class="ll" x="18.9" y="583.0">J</text>
<circle class="lc" cx="59.2" cy="573.4" r="6.5"/>
<text class="ll" x="59.2" y="577.2">J</text>
<circle class="lc" cx="106.6" cy="568.9" r="6.5"/>
<text class="ll" x="106.6" y="572.7">J</text>
<circle class="lc" cx="43.9" cy="597.6" r="6.5"/>
<text class="ll" x="43.9" y="601.4">J</text>
<circle class="lc" cx="97.4" cy="601.1" r="6.5"/>
<text class="ll" x="97.4" y="604.9">J</text>
<circle class="lc" cx="143.4" cy="586.6" r="6.5"/>
<text class="ll" x="143.4" y="590.4">J</text>
<circle class="lc" cx="139.5" cy="600.5" r="6.5"/>
<text class="ll" x="139.5" y="604.3">J</text>
</svg>
</body></html>
